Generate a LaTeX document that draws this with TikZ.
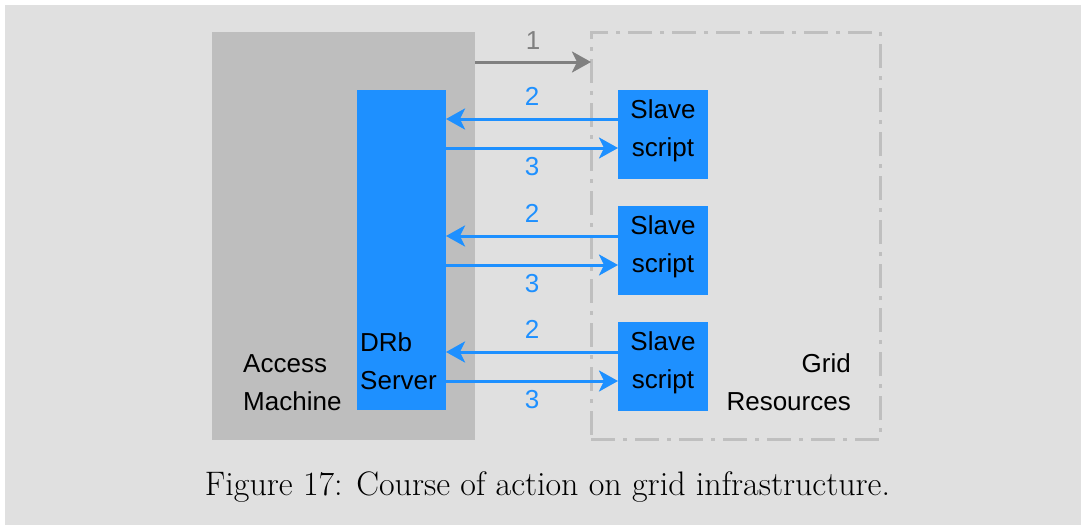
\documentclass[tikz,border=0pt]{standalone}
\usepackage{fontspec}
\usepackage{tikz}
\usetikzlibrary{arrows.meta,positioning}
\newfontfamily\arialfont{Liberation Sans}
\definecolor{bgfig}{HTML}{E0E0E0}
\definecolor{machinegray}{HTML}{BEBEBE}
\definecolor{gridgray}{HTML}{BFBFBF}
\definecolor{drbblue}{HTML}{1E90FF}
\definecolor{callgray}{HTML}{808080}

\begin{document}
\begin{tikzpicture}[
    x=1pt, y=-1pt,
    lbl/.style={font=\arialfont\fontsize{26}{38}\selectfont, inner sep=0pt},
    machine/.style={fill=machinegray, inner sep=0pt, outer sep=0pt, anchor=north west},
    gridbox/.style={draw=gridgray, line width=3pt, inner sep=0pt, outer sep=0pt, anchor=north west,
        dash pattern=on 24pt off 8pt on 4pt off 8pt},
    bluebox/.style={fill=drbblue, inner sep=0pt, outer sep=0pt, anchor=north west},
    msg/.style={-{Stealth[length=19pt, width=21pt, inset=5pt]}, line width=3pt, draw=drbblue},
    callarr/.style={-{Stealth[length=19pt, width=21pt, inset=5pt]}, line width=3pt, draw=callgray}
  ]
    \useasboundingbox (0,0) rectangle (1081,525);
    \fill[white] (0,0) rectangle (1081,525);
    \fill[bgfig] (5,5) rectangle (1081,525);
    % machine side
    \node[machine, minimum width=263pt, minimum height=408pt] (access) at (212,32) {};
    \node[bluebox, minimum width=89pt, minimum height=320pt] (drb) at (357,90) {};
    \node[lbl, align=left, above right=29pt and 31pt of access.south west] (acclbl) {Access\\Machine};
    \node[lbl, align=left, above right=20pt and 3pt of drb.south west] (drblbl) {DRb\\Server};
    % grid side
    \node[gridbox, minimum width=289pt, minimum height=407pt] (grid) at (591,32) {};
    \node[lbl, align=right, above right=28pt and -29pt of grid.south east, anchor=south east] (gridlbl) {Grid\\Resources};
    \node[bluebox, minimum width=90pt, minimum height=89pt] (slave1) at (618,90) {};
    \node[bluebox, minimum width=90pt, minimum height=89pt] (slave2) at (618,206) {};
    \node[bluebox, minimum width=90pt, minimum height=89pt] (slave3) at (618,322) {};
    \node[lbl, align=center] (slave1lbl) at ([yshift=4pt]slave1.center) {Slave\\script};
    \node[lbl, align=center] (slave2lbl) at ([yshift=4pt]slave2.center) {Slave\\script};
    \node[lbl, align=center] (slave3lbl) at ([yshift=4pt]slave3.center) {Slave\\script};
    % messages
    \draw[callarr] ([yshift=-30pt]access.north east) -- ([yshift=-30pt]grid.north west)
        node[midway, above=11pt, lbl, text=callgray] (n1) {1};
    \draw[msg] ([yshift=-29pt]slave1.north west) -- ([yshift=-29pt]slave1.north west -| drb.east)
        node[midway, above=12pt, lbl, text=drbblue] (n2a) {2};
    \draw[msg] ([yshift=-58pt]slave1.north west -| drb.east) -- ([yshift=-58pt]slave1.north west)
        node[midway, below=8pt, lbl, text=drbblue] (n3a) {3};
    \draw[msg] ([yshift=-30pt]slave2.north west) -- ([yshift=-30pt]slave2.north west -| drb.east)
        node[midway, above=12pt, lbl, text=drbblue] (n2b) {2};
    \draw[msg] ([yshift=-59pt]slave2.north west -| drb.east) -- ([yshift=-59pt]slave2.north west)
        node[midway, below=8pt, lbl, text=drbblue] (n3b) {3};
    \draw[msg] ([yshift=-30pt]slave3.north west) -- ([yshift=-30pt]slave3.north west -| drb.east)
        node[midway, above=12pt, lbl, text=drbblue] (n2c) {2};
    \draw[msg] ([yshift=-59pt]slave3.north west -| drb.east) -- ([yshift=-59pt]slave3.north west)
        node[midway, below=8pt, lbl, text=drbblue] (n3c) {3};
    % caption
    \node[font=\fontsize{34}{38}\selectfont, inner sep=0pt, anchor=base] (caption) at (547.5,495)
        {Figure 17: Course of action on grid infrastructure.};
\end{tikzpicture}
\end{document}
